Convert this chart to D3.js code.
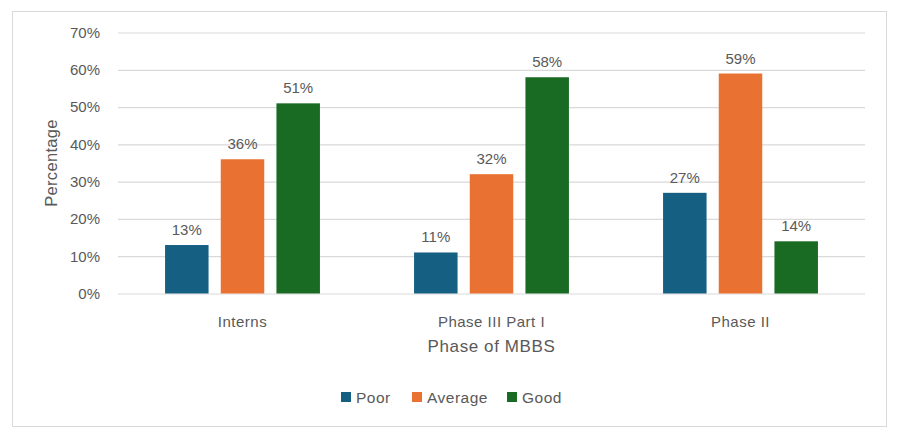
<!DOCTYPE html>
<html>
<head>
<meta charset="utf-8">
<script src="https://cdn.jsdelivr.net/npm/d3@7"></script>
<style>
  body { margin: 0; background: #fff; }
  text { font-family: "Liberation Sans", Arial, sans-serif; fill: #595959; }
</style>
</head>
<body>
<div id="chart"></div>
<script>
/* DATA */
const phases = ["Interns", "Phase III Part I", "Phase II"];
const levels = ["Poor", "Average", "Good"];
const poor = [13, 11, 27];
const average = [36, 32, 59];
const good = [51, 58, 14];
const yTicks = [0, 10, 20, 30, 40, 50, 60, 70];
const colors = ["#156082", "#E97132", "#196B24"];

const series = [poor, average, good];
// flatten into rows for binding
const rows = [];
phases.forEach((p, i) => {
  levels.forEach((l, j) => rows.push({phase: p, level: l, value: series[j][i]}));
});

const width = 902, height = 440;
const plot = {left: 118, right: 865, top: 32.5, bottom: 293.5};

const svg = d3.select("#chart").append("svg")
  .attr("width", width)
  .attr("height", height);

// chart frame
svg.append("rect")
  .attr("x", 12.5).attr("y", 11.5)
  .attr("width", 874).attr("height", 415)
  .attr("fill", "#fff")
  .attr("stroke", "#d9d9d9")
  .attr("stroke-width", 1);

const x0 = d3.scaleBand()
  .domain(phases)
  .range([plot.left, plot.right])
  .paddingInner(0.378)
  .paddingOuter(0.189);

const x1 = d3.scaleBand()
  .domain(levels)
  .range([0, x0.bandwidth()])
  .paddingInner(0.219)
  .paddingOuter(0);

const y = d3.scaleLinear()
  .domain([0, 70])
  .range([plot.bottom, plot.top]);

const color = d3.scaleOrdinal().domain(levels).range(colors);

// gridlines + y labels
const yAxis = svg.append("g")
  .attr("transform", `translate(${plot.left},0)`)
  .call(d3.axisLeft(y).tickValues(yTicks).tickFormat(d => d + "%")
    .tickSize(-(plot.right - plot.left)).tickPadding(18));
yAxis.select(".domain").remove();
yAxis.selectAll(".tick line").attr("stroke", "#d9d9d9").attr("stroke-width", 1.2);
yAxis.selectAll(".tick text").attr("font-size", 15).attr("fill", "#595959");

// bars
svg.append("g").selectAll("rect")
  .data(rows)
  .join("rect")
  .attr("x", d => x0(d.phase) + x1(d.level))
  .attr("y", d => y(d.value))
  .attr("width", x1.bandwidth())
  .attr("height", d => y(0) - y(d.value))
  .attr("fill", d => color(d.level));

// data labels
svg.append("g").selectAll("text")
  .data(rows)
  .join("text")
  .attr("x", d => x0(d.phase) + x1(d.level) + x1.bandwidth() / 2)
  .attr("y", d => y(d.value) - 10)
  .attr("text-anchor", "middle")
  .attr("font-size", 15)
  .text(d => d.value + "%");

// x labels
const xAxis = svg.append("g")
  .attr("transform", `translate(0,${plot.bottom})`)
  .call(d3.axisBottom(x0).tickSize(0).tickPadding(23));
xAxis.select(".domain").remove();
xAxis.selectAll(".tick text").attr("font-size", 15).attr("fill", "#595959")
  .attr("letter-spacing", 0.5);

// axis titles
svg.append("text")
  .attr("x", (plot.left + plot.right) / 2)
  .attr("y", 352)
  .attr("text-anchor", "middle")
  .attr("font-size", 17)
  .attr("letter-spacing", 0.6)
  .text("Phase of MBBS");

svg.append("text")
  .attr("transform", "translate(57,163) rotate(-90)")
  .attr("text-anchor", "middle")
  .attr("font-size", 16.5)
  .attr("letter-spacing", 0.3)
  .text("Percentage");

// legend
const legendX = [341, 412, 507];
const legend = svg.append("g").selectAll("g")
  .data(levels)
  .join("g")
  .attr("transform", (d, i) => `translate(${legendX[i]},392)`);
legend.append("rect")
  .attr("width", 10).attr("height", 10)
  .attr("fill", d => color(d));
legend.append("text")
  .attr("x", 15).attr("y", 10.5)
  .attr("font-size", 15.5)
  .attr("letter-spacing", 0.5)
  .text(d => d);
</script>
</body>
</html>
